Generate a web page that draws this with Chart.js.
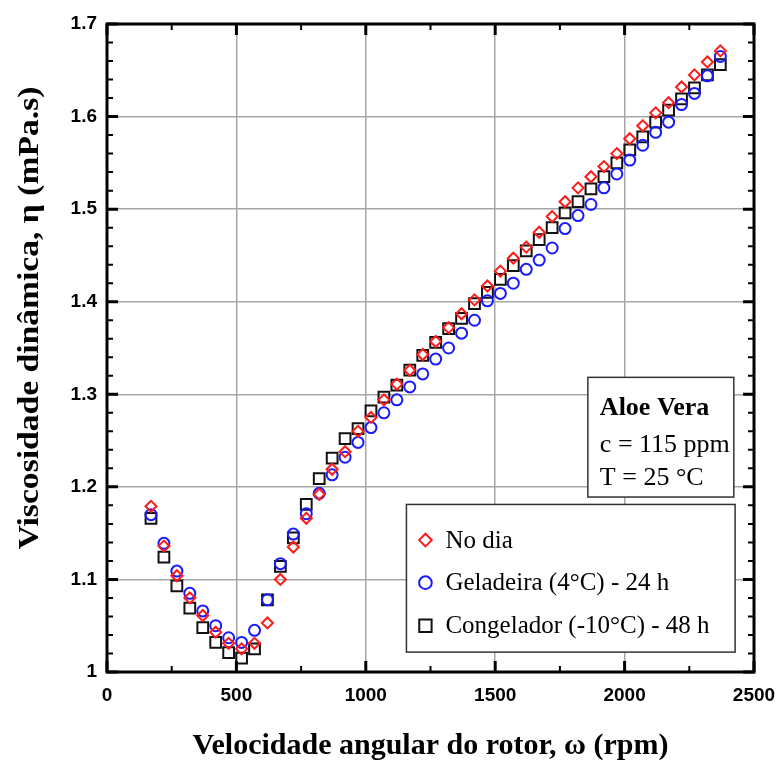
<!DOCTYPE html>
<html>
<head>
<meta charset="utf-8">
<script src="https://cdn.jsdelivr.net/npm/chart.js@4/dist/chart.umd.min.js"></script>
<style>
html,body{margin:0;padding:0;background:#fff;}
#wrap{position:relative;width:778px;height:762px;}
</style>
</head>
<body>
<div id="wrap"><canvas id="c" width="778" height="762"></canvas></div>
<script>
// rotor speed (rpm)
const rpm = [170,220,270,320,370,420,470,520,570,620,670,720,770,820,870,920,970,1020,1070,1120,1170,1220,1270,1320,1370,1420,1470,1520,1570,1620,1670,1720,1770,1820,1870,1920,1970,2020,2070,2120,2170,2220,2270,2320,2370];
// dynamic viscosity (mPa.s)
const noDia = [1.179,1.136,1.104,1.080,1.061,1.043,1.031,1.025,1.031,1.053,1.100,1.135,1.166,1.192,1.219,1.238,1.260,1.275,1.294,1.311,1.326,1.343,1.357,1.372,1.387,1.402,1.417,1.433,1.447,1.459,1.475,1.492,1.508,1.523,1.535,1.546,1.560,1.576,1.590,1.604,1.615,1.632,1.645,1.659,1.671];
const geladeira = [1.170,1.139,1.109,1.085,1.066,1.050,1.037,1.032,1.045,1.078,1.117,1.149,1.171,1.193,1.213,1.232,1.248,1.264,1.280,1.294,1.308,1.322,1.338,1.350,1.366,1.380,1.401,1.409,1.420,1.435,1.445,1.458,1.479,1.493,1.505,1.523,1.538,1.553,1.569,1.583,1.594,1.613,1.625,1.644,1.665];
const congelador = [1.166,1.124,1.093,1.069,1.048,1.032,1.021,1.015,1.025,1.078,1.114,1.145,1.181,1.209,1.231,1.252,1.263,1.282,1.297,1.310,1.326,1.342,1.356,1.371,1.382,1.398,1.410,1.424,1.439,1.455,1.467,1.480,1.496,1.508,1.522,1.535,1.550,1.564,1.578,1.594,1.607,1.619,1.631,1.645,1.656];
const seriesNames = ["No dia","Geladeira (4°C) - 24 h","Congelador (-10°C) - 48 h"];
const infoLines = ["Aloe Vera","c = 115 ppm","T = 25 °C"];
const xTitle = "Velocidade angular do rotor, ω (rpm)";
const yTitle = "Viscosidade dinâmica, η (mPa.s)";

const toXY = arr => arr.map((v,i)=>({x:rpm[i], y:v}));

const styles = [
  {pointStyle:'rectRot', color:'#ff1a1a', radius:5.5, bw:2},
  {pointStyle:'circle', color:'#1a1aff', radius:5.5, bw:2},
  {pointStyle:'rect', color:'#111111', radius:7.6, bw:2}
];
const datas = [noDia, geladeira, congelador];

const framePlugin = {
  id:'frame',
  afterDraw(chart){
    const ctx = chart.ctx, a = chart.chartArea;
    const xs = chart.scales.x, ys = chart.scales.y;
    ctx.save();
    // y title (slightly stretched along its length, as in the original)
    ctx.save();
    ctx.translate(30, (a.top+a.bottom)/2 - 30);
    ctx.rotate(-Math.PI/2);
    ctx.scale(1.12,1);
    ctx.font='bold 30px "Liberation Serif"';
    ctx.fillStyle='#000'; ctx.textAlign='center'; ctx.textBaseline='middle';
    ctx.fillText(yTitle,0,0);
    ctx.restore();
    // annotation box
    const bx = xs.getPixelForValue(1858), bx2 = xs.getPixelForValue(2422);
    const by = ys.getPixelForValue(1.3183), by2 = ys.getPixelForValue(1.189);
    ctx.fillStyle='#fff'; ctx.fillRect(bx,by,bx2-bx,by2-by);
    ctx.strokeStyle='#333'; ctx.lineWidth=1.5; ctx.strokeRect(bx,by,bx2-bx,by2-by);
    ctx.fillStyle='#000'; ctx.textBaseline='alphabetic'; ctx.textAlign='left';
    ctx.font='bold 26px "Liberation Serif"';
    ctx.fillText(infoLines[0], bx+12, by+38);
    ctx.font='26px "Liberation Serif"';
    ctx.fillText(infoLines[1], bx+12, by+75);
    ctx.fillText(infoLines[2], bx+12, by+108);
    // legend box
    const lx = xs.getPixelForValue(1157), lx2 = xs.getPixelForValue(2427);
    const ly = ys.getPixelForValue(1.181), ly2 = ys.getPixelForValue(1.0215);
    ctx.fillStyle='#fff'; ctx.fillRect(lx,ly,lx2-lx,ly2-ly);
    ctx.strokeStyle='#333'; ctx.lineWidth=1.5; ctx.strokeRect(lx,ly,lx2-lx,ly2-ly);
    ctx.font='25px "Liberation Serif"';
    const rowVals=[1.1425,1.0965,1.050];
    for(let i=0;i<3;i++){
      const s=styles[i];
      const cy=ys.getPixelForValue(rowVals[i]);
      ctx.strokeStyle=s.color; ctx.fillStyle='rgba(0,0,0,0)'; ctx.lineWidth=2;
      Chart.helpers.drawPoint(ctx,{pointStyle:s.pointStyle,radius:s.radius*1.15,rotation:0,borderWidth:2}, lx+19, cy);
      ctx.fillStyle='#000';
      ctx.fillText(seriesNames[i], lx+39, cy+7.5);
    }
    ctx.restore();
    // frame
    ctx.save();
    ctx.strokeStyle='#000';
    ctx.lineWidth=3;
    ctx.strokeRect(a.left, a.top, a.right-a.left, a.bottom-a.top);
    for(let v=0; v<=2500; v+=250){
      const px = xs.getPixelForValue(v);
      const major = v%500===0;
      const L = major?11:6;
      ctx.lineWidth = major?3:2;
      ctx.beginPath();
      ctx.moveTo(px,a.bottom); ctx.lineTo(px,a.bottom-L);
      ctx.moveTo(px,a.top); ctx.lineTo(px,a.top+L);
      ctx.stroke();
    }
    for(let k=0;k<=35;k++){
      const v = 1+k*0.02;
      const py = ys.getPixelForValue(v);
      const major = k%5===0;
      const L = major?11:6;
      ctx.lineWidth = major?3:2;
      ctx.beginPath();
      ctx.moveTo(a.left,py); ctx.lineTo(a.left+L,py);
      ctx.moveTo(a.right,py); ctx.lineTo(a.right-L,py);
      ctx.stroke();
    }
    ctx.restore();
  }
};

new Chart(document.getElementById('c'), {
  type:'scatter',
  data:{
    datasets: datas.map((d,i)=>({
      label: seriesNames[i],
      data: toXY(d),
      pointStyle: styles[i].pointStyle,
      pointRadius: styles[i].radius,
      pointHoverRadius: styles[i].radius,
      borderColor: styles[i].color,
      backgroundColor: 'rgba(0,0,0,0)',
      pointBorderWidth: styles[i].bw,
      showLine:false
    }))
  },
  options:{
    responsive:false,
    animation:false,
    events:[],
    layout:{padding:{left:0,right:24,top:24,bottom:0}},
    plugins:{legend:{display:false},tooltip:{enabled:false}},
    scales:{
      x:{
        type:'linear', min:0, max:2500,
        ticks:{stepSize:500, color:'#000', font:{family:'"Liberation Sans", Arial', weight:'bold', size:19}, padding:12, maxRotation:0,
          callback:v=>String(v)},
        grid:{color:'#a6a6a6', lineWidth:1.5, drawTicks:false},
        border:{display:false},
        title:{display:true, text:xTitle, color:'#000', font:{family:'"Liberation Serif"', weight:'bold', size:30, lineHeight:1}, padding:{top:0,bottom:1}},
        afterFit(s){ s.height = 90; s.paddingLeft = 0; s.paddingRight = 0; }
      },
      y:{
        type:'linear', min:1, max:1.7,
        ticks:{stepSize:0.1, color:'#000', font:{family:'"Liberation Sans", Arial', weight:'bold', size:19}, padding:10,
          callback:v=>String(+v.toFixed(1))},
        grid:{color:'#a6a6a6', lineWidth:1.5, drawTicks:false},
        border:{display:false},
        afterFit(s){ s.width = 107; s.paddingTop = 0; s.paddingBottom = 0; }
      }
    }
  },
  plugins:[framePlugin]
});
</script>
</body>
</html>
